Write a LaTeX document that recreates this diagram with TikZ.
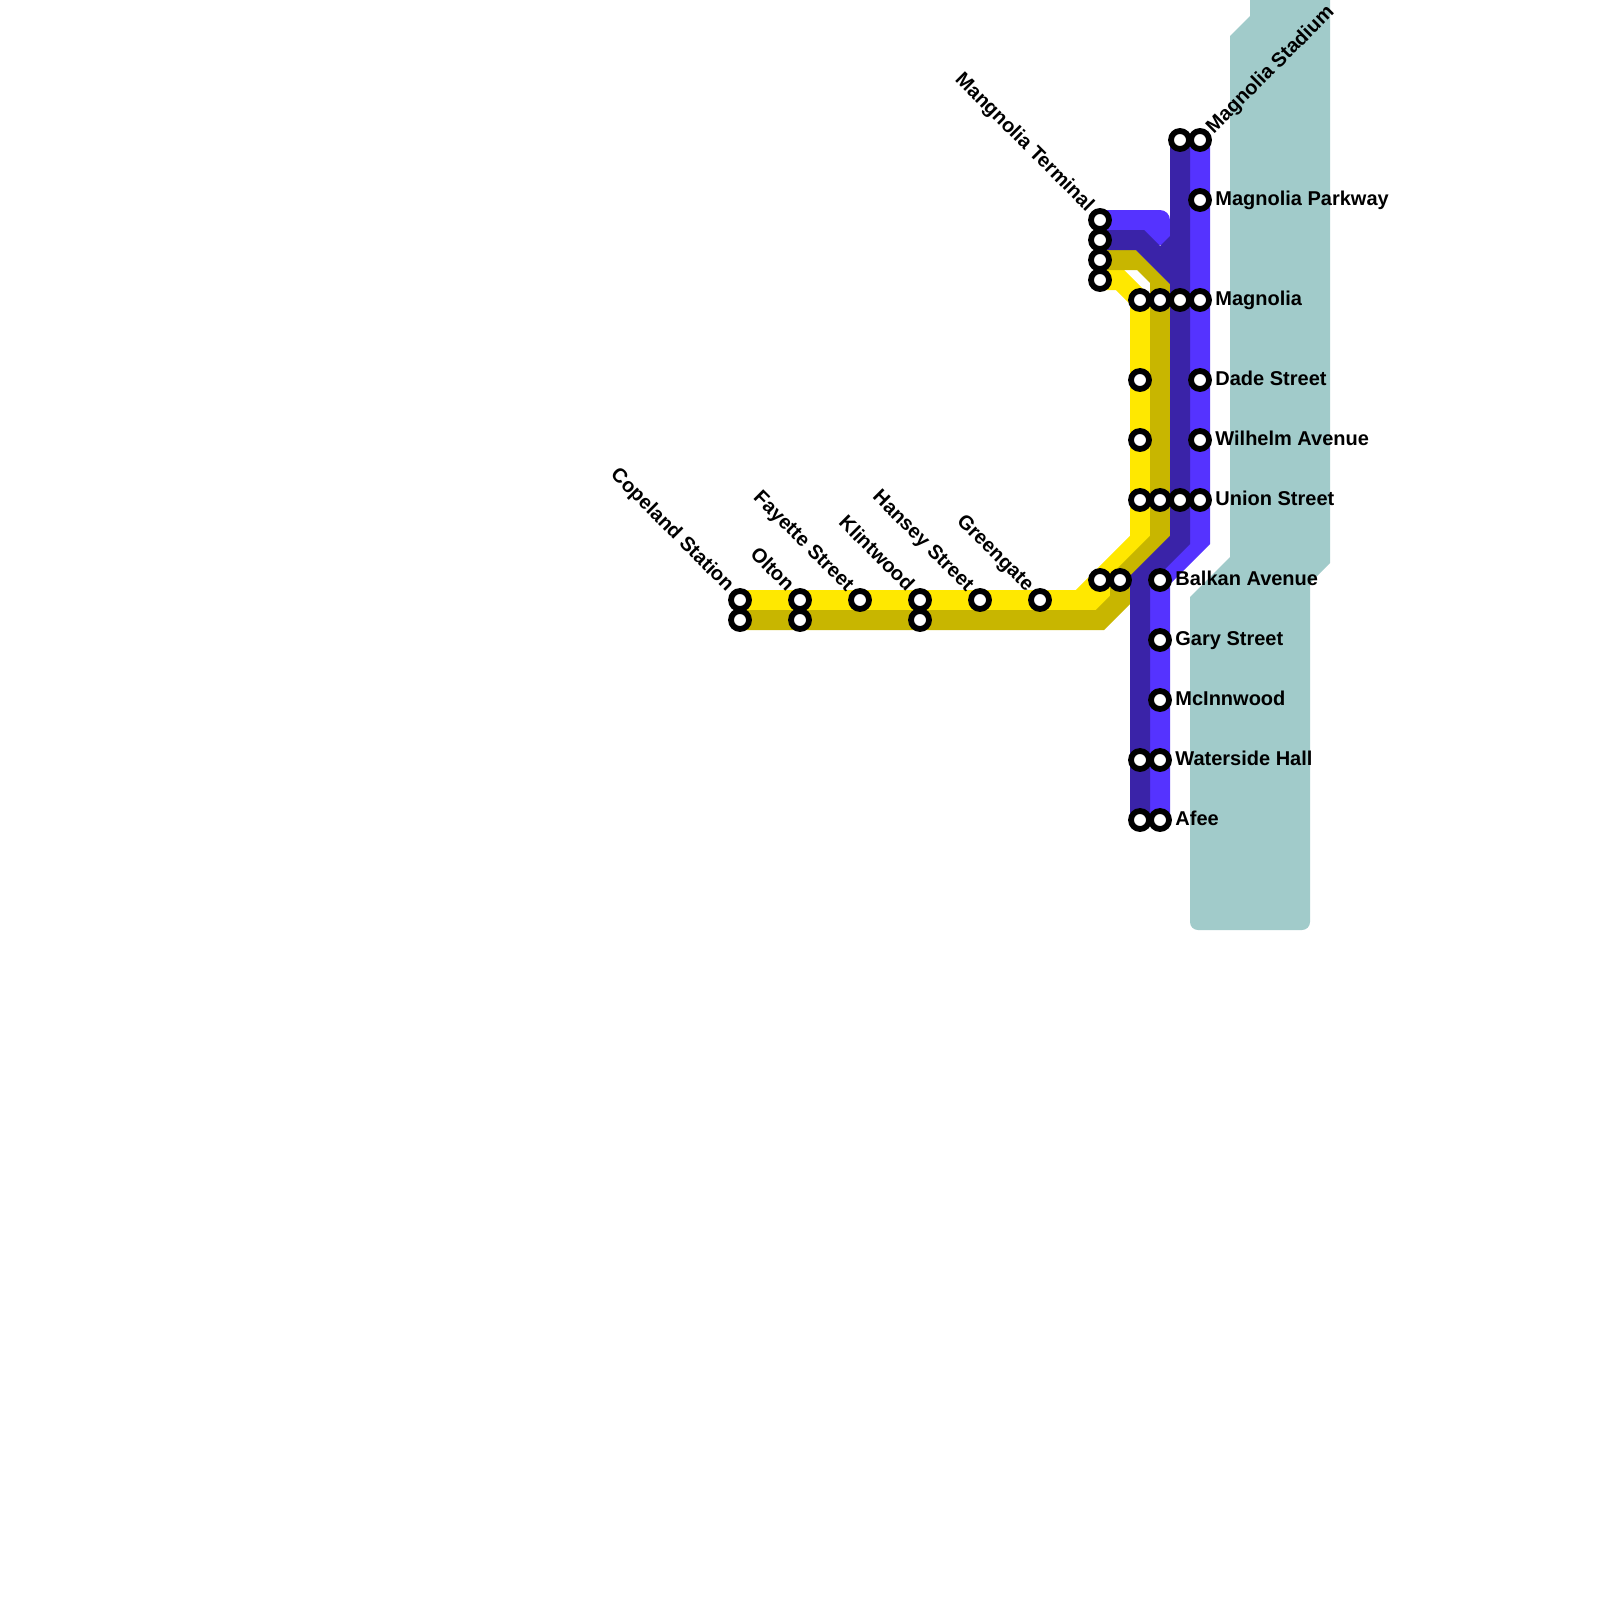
\documentclass[tikz,border=0pt]{standalone}
\usepackage{fontspec}
\setmainfont{Liberation Sans}
\usetikzlibrary{
  positioning,
  calc,
  backgrounds
}
\definecolor{WaterTeal}{RGB}{161,203,202}
\definecolor{LineYellow}{RGB}{255,232,0}
\definecolor{LineOlive}{RGB}{200,182,0}
\definecolor{LineIndigo}{RGB}{58,35,168}
\definecolor{LineBlue}{RGB}{85,51,255}
\tikzset{
  station/.style={circle,draw=black,fill=white,line width=2.9pt,minimum size=9pt,inner sep=0pt,outer sep=0pt},
  route/.style={line width=10pt,line join=miter},
  yellowroute/.style={route,draw=LineYellow},
  oliveroute/.style={route,draw=LineOlive},
  indigoroute/.style={route,draw=LineIndigo},
  blueroute/.style={route,draw=LineBlue},
  stopname/.style={font=\bfseries\fontsize{10}{10}\selectfont,inner sep=0pt,text height=5pt,text depth=0pt},
  eastname/.style={stopname,anchor=west},
  slantname/.style={stopname,anchor=east,rotate=-45},
  risename/.style={stopname,anchor=west,rotate=45}
}
\begin{document}
\begin{tikzpicture}[x=0.5pt,y=-0.5pt]
\useasboundingbox (0,0) rectangle (1600,1600);
% terminal stack
\node[station] (terminalA) at (1100,220) {};
\node[station] (terminalB) at (1100,240) {};
\node[station] (terminalC) at (1100,260) {};
\node[station] (terminalD) at (1100,280) {};
% east column
\node[station] (stadiumA) at (1180,140) {};
\node[station] (stadiumB) at (1200,140) {};
\node[station] (parkway) at (1200,200) {};
\node[station] (magnoliaA) at (1140,300) {};
\node[station] (magnoliaB) at (1160,300) {};
\node[station] (magnoliaC) at (1180,300) {};
\node[station] (magnoliaD) at (1200,300) {};
\node[station] (dadeA) at (1140,380) {};
\node[station] (dadeB) at (1200,380) {};
\node[station] (wilhelmA) at (1140,440) {};
\node[station] (wilhelmB) at (1200,440) {};
\node[station] (unionA) at (1140,500) {};
\node[station] (unionB) at (1160,500) {};
\node[station] (unionC) at (1180,500) {};
\node[station] (unionD) at (1200,500) {};
% south column
\node[station] (balkanA) at (1100,580) {};
\node[station] (balkanB) at (1120,580) {};
\node[station] (balkanC) at (1160,580) {};
\node[station] (gary) at (1160,640) {};
\node[station] (mcinnwood) at (1160,700) {};
\node[station] (watersideA) at (1140,760) {};
\node[station] (watersideB) at (1160,760) {};
\node[station] (afeeA) at (1140,820) {};
\node[station] (afeeB) at (1160,820) {};
% west row
\node[station] (copelandA) at (740,600) {};
\node[station] (copelandB) at (740,620) {};
\node[station] (oltonA) at (800,600) {};
\node[station] (oltonB) at (800,620) {};
\node[station] (fayette) at (860,600) {};
\node[station] (klintwoodA) at (920,600) {};
\node[station] (klintwoodB) at (920,620) {};
\node[station] (hansey) at (980,600) {};
\node[station] (greengate) at (1040,600) {};
\begin{scope}[on background layer]
% water
\fill[WaterTeal] (1250,0) -- (1250,16) -- (1230,36) -- (1230,557) -- (1190,597)
  [rounded corners=4pt] -- (1190,930) -- (1310,930) [sharp corners] -- (1310,583) -- (1330,563) -- (1330,0) -- cycle;
% routes
\draw[blueroute,line join=round] (terminalA.center) -- (1160,220) -- (1160,245);
\fill[LineBlue] (1140,228) rectangle (1152,250);
\draw[blueroute] (stadiumB.center) -- (unionD.center) -- (1200,540) -- (balkanC.center) -- (afeeB.center);
\draw[yellowroute] (terminalD.center) -- (1120,280) -- (magnoliaA.center) -- (unionA.center) -- (1140,540) -- (balkanA.center) -- (1080,600) -- (copelandA.center);
\draw[yellowroute] (balkanA.center) -- (1100,600) -- (greengate.center);
% olive head is narrower on the slant
\fill[LineOlive] (terminalC.center) ++(0,-10) -- (1136,250) -- (1170,284) -- (1170,300) -- (1150,300) -- (1150,283) -- (1137,270) -- (1100,270) -- cycle;
\draw[oliveroute] (magnoliaB.center) -- (unionB.center) -- (1160,540) -- (balkanB.center) -- (1120,600) -- (1100,620) -- (copelandB.center);
\draw[indigoroute] (terminalB.center) -- (1140,240) -- (1180,280);
\fill[LineIndigo] (1160,246) -- (1170,236) -- (1170,270) -- (1150,260) -- cycle;
\draw[indigoroute] (stadiumA.center) -- (unionC.center) -- (1180,540) -- (1140,580) -- (afeeA.center);
\end{scope}
% names
\node[risename] at ($(stadiumB)+(10,-9)$) {Magnolia Stadium};
\node[eastname, right=15 of parkway.center] {Magnolia Parkway};
\node[eastname, right=15 of magnoliaD.center] {Magnolia};
\node[eastname, right=15 of dadeB.center] {Dade Street};
\node[eastname, right=15 of wilhelmB.center] {Wilhelm Avenue};
\node[eastname, right=15 of unionD.center] {Union Street};
\node[eastname, right=15 of balkanC.center] {Balkan Avenue};
\node[eastname, right=15 of gary.center] {Gary Street};
\node[eastname, right=15 of mcinnwood.center] {McInnwood};
\node[eastname, right=15 of watersideB.center] {Waterside Hall};
\node[eastname, right=15 of afeeB.center] {Afee};
\node[slantname] at ($(terminalA)+(-10,-11)$) {Mangnolia Terminal};
\node[slantname] at ($(copelandA)+(-10,-11)$) {Copeland Station};
\node[slantname] at ($(oltonA)+(-10,-11)$) {Olton};
\node[slantname] at ($(fayette)+(-10,-11)$) {Fayette Street};
\node[slantname] at ($(klintwoodA)+(-10,-11)$) {Klintwood};
\node[slantname] at ($(hansey)+(-10,-11)$) {Hansey Street};
\node[slantname] at ($(greengate)+(-10,-11)$) {Greengate};
\end{tikzpicture}
\end{document}
